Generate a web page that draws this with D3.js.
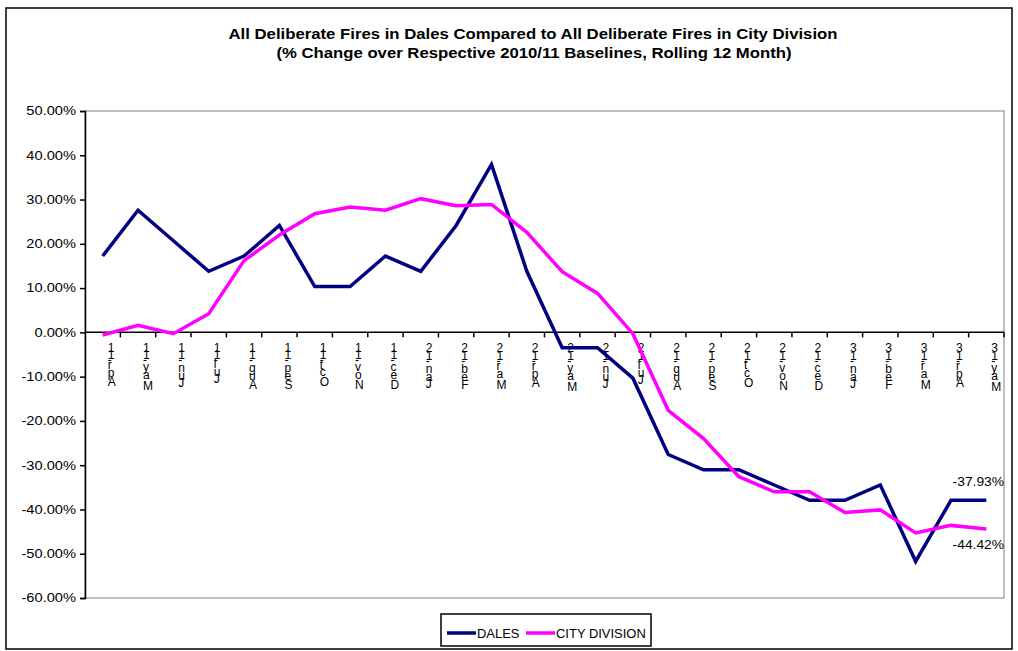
<!DOCTYPE html>
<html>
<head>
<meta charset="utf-8">
<style>
  body {
    margin: 0;
    background: #fff;
  }
  text {
    font-family: Arial, "Liberation Sans", sans-serif;
  }
</style>
<script type="text/javascript" src="https://d3js.org/d3.v7.min.js"></script>
</head>
<body>
<svg id="chart"></svg>
<script type="text/javascript">
let months = ['Apr-11', 'May-11', 'Jun-11', 'Jul-11', 'Aug-11', 'Sep-11', 'Oct-11', 'Nov-11',
              'Dec-11', 'Jan-12', 'Feb-12', 'Mar-12', 'Apr-12', 'May-12', 'Jun-12', 'Jul-12',
              'Aug-12', 'Sep-12', 'Oct-12', 'Nov-12', 'Dec-12', 'Jan-13', 'Feb-13', 'Mar-13',
              'Apr-13', 'May-13']

// % change over 2010/11 baseline
let dales = [17.24, 27.59, 20.69, 13.79, 17.24, 24.14, 10.34, 10.34, 17.24, 13.79, 24.14, 37.93,
             13.79, -3.45, -3.45, -10.34, -27.59, -31.03, -31.03, -34.48, -37.93, -37.93, -34.48,
             -51.72, -37.93, -37.93]
let city = [-0.6, 1.6, -0.3, 4.2, 16.2, 22.0, 26.8, 28.3, 27.6, 30.2, 28.6, 28.9,
            22.6, 13.7, 8.8, -0.3, -17.6, -24.0, -32.6, -36.0, -36.0, -40.7, -40.1,
            -45.3, -43.6, -44.42]

let yTicks = [50, 40, 30, 20, 10, 0, -10, -20, -30, -40, -50, -60]

let width = 1018,
    height = 651
let plot = {left: 85, right: 1004, top: 111, bottom: 598}

// excel draws its text a bit wider than the font does
function stretch(sel, factor) {
  sel.each(function() {
    let len = this.getComputedTextLength()
    d3.select(this)
      .attr('textLength', len * factor)
      .attr('lengthAdjust', 'spacingAndGlyphs')
  })
}

let svg = d3.select('#chart')
    .attr('width', width)
    .attr('height', height)

// outer chart frame
svg.append('rect')
    .attr('x', 6).attr('y', 8)
    .attr('width', 1006).attr('height', 641)
    .attr('fill', 'white')
    .attr('stroke', 'black')
    .attr('stroke-width', 1.5)

let x = d3.scaleBand()
    .domain(months)
    .range([plot.left, plot.right])

let y = d3.scaleLinear()
    .domain([-60, 50])
    .range([plot.bottom, plot.top])

// plot area border (grey)
svg.append('rect')
    .attr('x', plot.left).attr('y', plot.top)
    .attr('width', plot.right - plot.left).attr('height', plot.bottom - plot.top)
    .attr('fill', 'none')
    .attr('stroke', '#808080')
    .attr('stroke-width', 1)

// title
let title = svg.append('g')
    .attr('font-size', 15)
    .attr('font-weight', 'bold')
    .attr('text-anchor', 'middle')
title.append('text').attr('x', 533).attr('y', 38.5)
    .text('All Deliberate Fires in Dales Compared to All Deliberate Fires in City Division')
    .attr('textLength', 609).attr('lengthAdjust', 'spacingAndGlyphs')
title.append('text').attr('x', 534).attr('y', 57.5)
    .text('(% Change over Respective 2010/11 Baselines, Rolling 12 Month)')
    .attr('textLength', 515).attr('lengthAdjust', 'spacingAndGlyphs')

// y axis
let yAxis = svg.append('g')
    .attr('transform', 'translate(' + plot.left + ',0)')
    .call(d3.axisLeft(y).tickValues(yTicks).tickSize(5).tickPadding(4)
      .tickFormat(d => d.toFixed(2) + '%'))
yAxis.select('.domain').attr('stroke-width', 1.5)
yAxis.selectAll('.tick line').attr('stroke-width', 1.5)
yAxis.selectAll('text')
    .attr('font-size', 12)
    .attr('font-family', 'Arial, "Liberation Sans", sans-serif')
    .call(stretch, 1.22)

// x axis at zero, ticks between categories
let xAxis = svg.append('g')
svg.append('line')
    .attr('x1', plot.left).attr('x2', plot.right)
    .attr('y1', y(0)).attr('y2', y(0))
    .attr('stroke', 'black')
    .attr('stroke-width', 1.5)
xAxis.selectAll('line.tick')
    .data(months)
    .enter().append('line')
    .attr('x1', d => x(d) + x.step())
    .attr('x2', d => x(d) + x.step())
    .attr('y1', y(0)).attr('y2', y(0) + 5)
    .attr('stroke', 'black')
    .attr('stroke-width', 1.5)

// category labels: rotated text with upright glyphs
xAxis.selectAll('text.cat')
    .data(months)
    .enter().append('text')
    .attr('class', 'cat')
    .attr('transform', d => 'translate(' + (x(d) + x.bandwidth() / 2 + 5) + ',' + (y(0) + 12) + ') rotate(-90)')
    .attr('text-anchor', 'end')
    .attr('rotate', 90)
    .attr('letter-spacing', 1.1)
    .attr('font-size', 12)
    .text(d => d)

// lines
let line = d3.line()
    .x((d, i) => x(months[i]) + x.bandwidth() / 2)
    .y(d => y(d))

let series = [
  {name: 'DALES', values: dales, color: '#000080'},
  {name: 'CITY DIVISION', values: city, color: '#FF00FF'}
]

svg.selectAll('path.series')
    .data(series)
    .enter().append('path')
    .attr('class', 'series')
    .attr('d', d => line(d.values))
    .attr('fill', 'none')
    .attr('stroke', d => d.color)
    .attr('stroke-width', 3.5)
    .attr('stroke-linejoin', 'miter')

// end labels
let last = months.length - 1
let endLabels = svg.append('g')
    .attr('font-size', 12)
    .attr('text-anchor', 'middle')
endLabels.append('text')
    .attr('x', x(months[last]) + x.bandwidth() / 2 - 8)
    .attr('y', y(dales[last]) - 14)
    .text(dales[last].toFixed(2) + '%')
endLabels.append('text')
    .attr('x', x(months[last]) + x.bandwidth() / 2 - 8)
    .attr('y', y(city[last]) + 20)
    .text(city[last].toFixed(2) + '%')
endLabels.selectAll('text').call(stretch, 1.15)

// legend
let legend = svg.append('g')
legend.append('rect')
    .attr('x', 441).attr('y', 614)
    .attr('width', 210).attr('height', 32)
    .attr('fill', 'white')
    .attr('stroke', 'black')
    .attr('stroke-width', 1.5)
let legendX = [447, 526]
series.forEach(function(s, i) {
  legend.append('line')
      .attr('x1', legendX[i]).attr('x2', legendX[i] + 29)
      .attr('y1', 633).attr('y2', 633)
      .attr('stroke', s.color)
      .attr('stroke-width', 3.5)
  legend.append('text')
      .attr('x', legendX[i] + 30)
      .attr('y', 637.5)
      .attr('font-size', 12)
      .text(s.name)
      .call(stretch, 1.08)
})
</script>
</body>
</html>
